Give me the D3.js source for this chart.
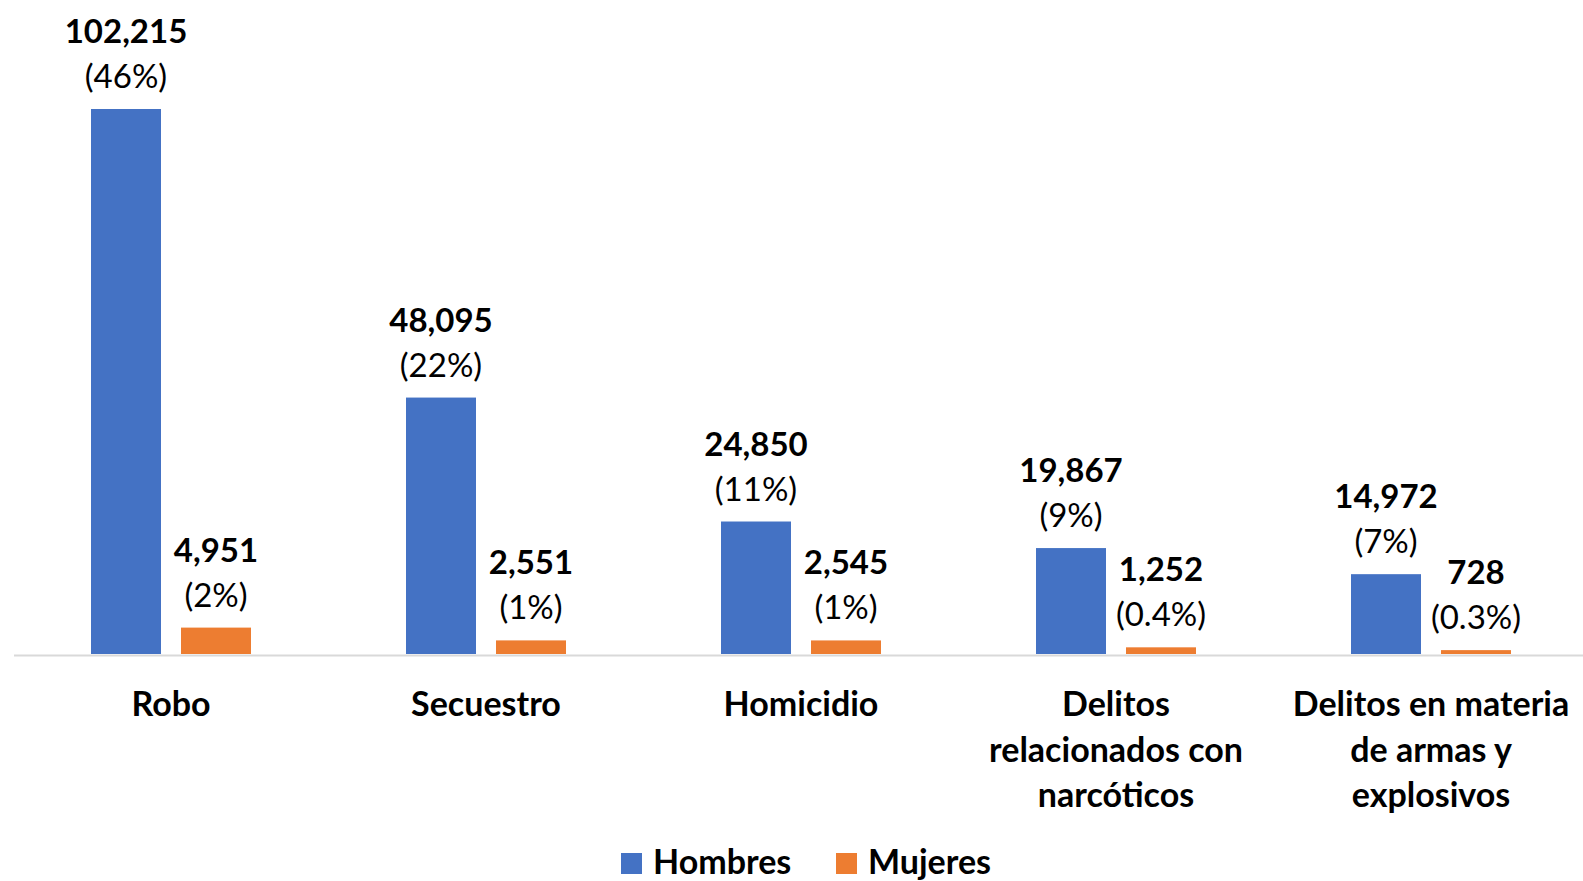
<!DOCTYPE html>
<html>
<head>
<meta charset="utf-8">
<script src="https://cdn.jsdelivr.net/npm/d3@7"></script>
<style>
  body { margin: 0; background: #fff; }
  text { font-family: Lato, "Open Sans", sans-serif; fill: #000; }
</style>
</head>
<body>
<div id="chart"></div>
<script>
// categories (line breaks as in the original labels)
const categories = ["Robo", "Secuestro", "Homicidio",
                    "Delitos\nrelacionados con\nnarcóticos",
                    "Delitos en materia\nde armas y\nexplosivos"];
const series = ["Hombres", "Mujeres"];
const hombres = [102215, 48095, 24850, 19867, 14972];
const mujeres = [4951, 2551, 2545, 1252, 728];
const hombresPct = ["46%", "22%", "11%", "9%", "7%"];
const mujeresPct = ["2%", "1%", "1%", "0.4%", "0.3%"];
const colors = ["#4472C4", "#ED7D31"];

const width = 1583,
      height = 881,
      baseY = 654,
      fontSize = 33;

const svg = d3.select("#chart").append("svg")
    .attr("width", width)
    .attr("height", height);

const x0 = d3.scaleBand()
    .domain(categories)
    .range([13.5, 13.5 + 315 * categories.length])
    .padding(0);

const x1 = d3.scaleBand()
    .domain(series)
    .range([77.5, 237.5])
    .paddingInner(20 / 90)
    .paddingOuter(0);

const y = d3.scaleLinear()
    .domain([0, d3.max(hombres)])
    .range([baseY, 109]);

const color = d3.scaleOrdinal().domain(series).range(colors);

// one row per bar
const rows = [];
categories.forEach((c, i) => {
    rows.push({cat: c, s: "Hombres", v: hombres[i], pct: hombresPct[i]});
    rows.push({cat: c, s: "Mujeres", v: mujeres[i], pct: mujeresPct[i]});
});

// axis line + category labels
const axis = svg.append("g")
    .attr("transform", `translate(0,${baseY + 1})`)
    .call(d3.axisBottom(x0).tickSize(0).tickSizeOuter(0).tickFormat(""));
axis.select(".domain").attr("stroke", "#D9D9D9").attr("stroke-width", 2);

const fmt = d3.format(",");

svg.append("g").selectAll("text.cat")
    .data(categories)
    .join("text")
    .attr("class", "cat")
    .attr("text-anchor", "middle")
    .attr("font-weight", "bold")
    .attr("font-size", 34)
    .attr("transform", d => `translate(${x0(d) + x0.bandwidth() / 2},716)`)
    .selectAll("tspan")
    .data(d => d.split("\n"))
    .join("tspan")
    .attr("x", 0)
    .attr("y", (d, i) => i * 45.5)
    .text(d => d);

const bars = svg.append("g");

bars.selectAll("rect")
    .data(rows)
    .join("rect")
    .attr("x", d => x0(d.cat) + x1(d.s))
    .attr("y", d => y(d.v))
    .attr("width", x1.bandwidth())
    .attr("height", d => baseY - y(d.v))
    .attr("fill", d => color(d.s));

// data labels: value (bold) and share (regular)
bars.selectAll("text.val")
    .data(rows)
    .join("text")
    .attr("class", "val")
    .attr("text-anchor", "middle")
    .attr("font-weight", "bold")
    .attr("font-size", fontSize)
    .attr("x", d => x0(d.cat) + x1(d.s) + x1.bandwidth() / 2)
    .attr("y", d => y(d.v) - 66)
    .text(d => fmt(d.v));

bars.selectAll("text.pct")
    .data(rows)
    .join("text")
    .attr("class", "pct")
    .attr("text-anchor", "middle")
    .attr("font-size", fontSize)
    .attr("x", d => x0(d.cat) + x1(d.s) + x1.bandwidth() / 2)
    .attr("y", d => y(d.v) - 21)
    .text(d => `(${d.pct})`);

// legend
const legendX = [621, 836];
const legend = svg.append("g").selectAll("g")
    .data(series)
    .join("g")
    .attr("transform", (d, i) => `translate(${legendX[i]},853)`);

legend.append("rect")
    .attr("width", 21)
    .attr("height", 21)
    .attr("fill", d => color(d));

legend.append("text")
    .attr("x", 32)
    .attr("y", 21)
    .attr("font-weight", "bold")
    .attr("font-size", 34)
    .text(d => d);
</script>
</body>
</html>
